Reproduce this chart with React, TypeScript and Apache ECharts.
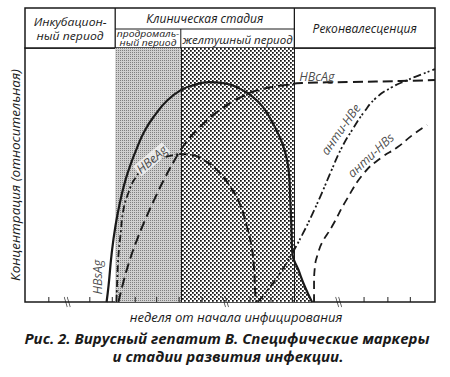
import React, { useEffect, useRef } from "react";
import * as echarts from "echarts";

// x: relative position along the week axis (0..100), y: relative concentration (0..100)
const stageBounds = [0, 22, 38, 65.7, 100];

const hbsAgX = [19.9, 20.4, 21.1, 22.1, 23.3, 24.5, 25.7, 27.3, 29.3, 31.7, 34.8, 38.1, 41.2, 44.8, 48.4, 52.0, 55.6, 58.0, 60.0, 61.9, 63.3, 64.3, 64.7, 65.0, 65.2, 66.7, 68.3, 70.0];
const hbsAgY = [0, 6.7, 18.5, 30.3, 40.2, 48.0, 53.9, 60.6, 67.7, 73.6, 79.5, 83.5, 85.4, 86.6, 86.2, 84.3, 80.7, 76.8, 71.7, 65.7, 59.8, 52.0, 40.2, 28.3, 19.3, 12.6, 5.9, 0];

const hbsAgTailX = [65.7, 66.7, 68.3, 70.0];
const hbsAgTailY = [16.9, 12.6, 5.9, 0];

const hbcAgX = [22.8, 24.0, 25.4, 27.1, 29.3, 31.7, 34.1, 36.5, 38.8, 42.4, 47.2, 53.2, 58.0, 63.5, 67.6, 79.6, 91.6, 100];
const hbcAgY = [0, 7.9, 15.7, 23.6, 32.3, 40.9, 48.8, 55.9, 61.8, 68.5, 75.2, 81.1, 83.9, 85.4, 86.2, 86.6, 87.0, 87.4];

const hbeAgRiseX = [22.3, 22.5, 22.8, 23.3, 24.0, 25.2, 26.9, 29.7, 32.9, 35.3, 37.6];
const hbeAgRiseY = [0, 8.7, 18.5, 26.4, 36.2, 42.9, 48.8, 53.9, 56.3, 57.5, 58.3];

const hbeAgFallX = [37.6, 40.8, 43.6, 46.8, 50.1, 52.5, 54.0, 55.2, 55.9, 56.1, 56.4];
const hbeAgFallY = [58.3, 57.9, 55.9, 52.0, 45.3, 38.2, 30.3, 22.4, 12.6, 4.7, 0];

const antiHbeX = [56.8, 59.2, 62.4, 65.2, 67.6, 70.0, 72.4, 74.8, 77.2, 80.1, 82.7, 85.6, 89.2, 93.3, 96.4, 100];
const antiHbeY = [0, 4.7, 11.8, 19.3, 26.4, 34.3, 42.9, 52.0, 60.6, 68.5, 74.8, 80.3, 84.3, 87.4, 89.4, 91.7];

const antiHbsX = [70.5, 70.5, 70.7, 71.5, 72.4, 74.8, 78.4, 82.7, 86.8, 90.9, 94.5, 98.1];
const antiHbsY = [0, 6.7, 13.8, 19.3, 23.2, 29.5, 40.2, 50.8, 56.7, 61.0, 65.7, 69.7];

const tickX = [5.8, 15.8, 21.3, 26.9, 32.1, 37.6, 43.2, 54.9, 60.0, 65.2, 70.5, 82.7, 88.5, 94.0];
const breakX = [10.3, 48.9, 76.5];

const curveLabels = [
  { text: "HBsAg", x: 17.7, y: 9.8, rotate: 90, bg: "transparent" },
  { text: "HBeAg", x: 30.9, y: 56.2, rotate: 40, bg: "#f4f4f4" },
  { text: "HBcAg", x: 71.2, y: 88.6, rotate: 0, bg: "transparent" },
  { text: "анти-HBe", x: 77.0, y: 68.0, rotate: 55, bg: "transparent" },
  { text: "анти-HBs", x: 84.3, y: 57.8, rotate: 43, bg: "transparent" },
];

const headerIncubation = ["Инкубацион-", "ный период"];
const headerClinical = "Клиническая стадия";
const headerProdromal = ["продромаль-", "ный период"];
const headerJaundice = "желтушный период";
const headerConv = "Реконвалесценция";
const yTitle = "Концентрация (относительная)";
const xTitle = "неделя от начала инфицирования";
const caption = ["Рис. 2. Вирусный гепатит В. Специфические маркеры", "и стадии развития инфекции."];

const FONT = "'Open Sans', 'Noto Sans', sans-serif";

function zip(xs: number[], ys: number[]) {
  return xs.map((x, i) => [x, ys[i]]);
}

function squaresPattern(size: number, dots: number[][], bg: string, fg: string) {
  const c = document.createElement("canvas");
  c.width = size;
  c.height = size;
  const g = c.getContext("2d")!;
  g.fillStyle = bg;
  g.fillRect(0, 0, size, size);
  g.fillStyle = fg;
  dots.forEach(([x, y, w]) => g.fillRect(x, y, w, w));
  return c.toDataURL();
}

export default function App() {
  const ref = useRef<HTMLDivElement>(null);
  useEffect(() => {
    document.body.style.margin = "0";
    const chart = echarts.init(ref.current!, null, { renderer: "svg" });
    const prodPattern = { image: squaresPattern(2, [[0, 0, 1]], "#d0d0d0", "#808080"), repeat: "repeat" };
    const jaunPattern = {
      image: squaresPattern(16, [[0, 0, 7], [8, 8, 7]], "#ffffff", "#111111"),
      repeat: "repeat",
      scaleX: 0.25,
      scaleY: 0.25,
    };
    const ink = "#1a1a1a";
    const lineSeries = (name: string, data: number[][], width: number, type: any) => ({
      name,
      type: "line",
      data,
      smooth: 0.5,
      symbol: "none",
      lineStyle: { color: ink, width, type, cap: "butt" },
      z: 5,
    });

    chart.setOption({
      animation: false,
      grid: { left: 18, right: 15, top: 48, bottom: 75, show: true, borderColor: ink, borderWidth: 1.5, backgroundColor: "#fff" },
      xAxis: {
        type: "value", min: 0, max: 100,
        axisLine: { show: false }, axisTick: { show: false }, axisLabel: { show: false }, splitLine: { show: false },
      },
      yAxis: {
        type: "value", min: 0, max: 100,
        axisLine: { show: false }, axisTick: { show: false }, axisLabel: { show: false }, splitLine: { show: false },
        name: yTitle, nameLocation: "middle", nameRotate: 90, nameGap: 3,
        nameTextStyle: { fontFamily: FONT, fontStyle: "italic", fontSize: 13.5, color: ink },
      },
      series: [
        {
          type: "line", data: [], silent: true,
          markArea: {
            silent: true,
            data: [
              [{ xAxis: stageBounds[1], itemStyle: { color: prodPattern } }, { xAxis: stageBounds[2] }],
              [{ xAxis: stageBounds[2], itemStyle: { color: jaunPattern } }, { xAxis: stageBounds[3] }],
            ],
            label: { show: false },
          },
        },
        {
          type: "line", data: zip(hbsAgTailX, hbsAgTailY), symbol: "none", smooth: false,
          lineStyle: { width: 0 }, areaStyle: { color: jaunPattern, opacity: 1 }, z: 2,
        },
        {
          type: "line", data: [], silent: true, z: 1,
          markLine: {
            silent: true, symbol: "none", label: { show: false },
            lineStyle: { color: ink, width: 1, type: "solid" },
            data: [{ xAxis: stageBounds[2] }, { xAxis: stageBounds[3] }],
          },
        },
        lineSeries("HBsAg", zip(hbsAgX, hbsAgY), 2.2, "solid"),
        lineSeries("HBcAg", zip(hbcAgX, hbcAgY), 2, [10, 5]),
        lineSeries("HBeAg-rise", zip(hbeAgRiseX, hbeAgRiseY), 1.8, [7, 3, 2, 3]),
        lineSeries("HBeAg-fall", zip(hbeAgFallX, hbeAgFallY), 2, [9, 4]),
        lineSeries("анти-HBe", zip(antiHbeX, antiHbeY), 1.8, [8, 3, 2, 2, 2, 3]),
        lineSeries("анти-HBs", zip(antiHbsX, antiHbsY), 1.8, [8, 5]),
        {
          type: "scatter", data: tickX.map((x) => [x, 0]), symbol: "rect", symbolSize: [1.2, 5],
          symbolOffset: [0, -2.5], itemStyle: { color: ink }, clip: false, silent: true, z: 6,
        },
        {
          type: "scatter", data: breakX.map((x) => [x, 0]), symbol: "path://M0,0 L3,10 M3,0 L6,10",
          symbolSize: [6, 10], itemStyle: { color: "none", borderColor: ink, borderWidth: 1 }, clip: false, silent: true, z: 6,
        },
        {
          type: "scatter", silent: true, clip: false, symbolSize: 0, z: 7,
          data: curveLabels.map((l) => ({
            value: [l.x, l.y],
            label: {
              show: true, formatter: l.text, rotate: l.rotate, position: "inside",
              fontFamily: FONT, fontStyle: "italic", fontSize: 12.5, color: ink,
              backgroundColor: l.bg, padding: [0, 1],
            },
          })),
        },
      ],
    });

    const px = (v: number) => chart.convertToPixel({ xAxisIndex: 0 }, v) as number;
    const x0 = px(stageBounds[0]);
    const x1 = px(stageBounds[1]);
    const x2 = px(stageBounds[2]);
    const x3 = px(stageBounds[3]);
    const x4 = px(stageBounds[4]);
    const top = 8;
    const mid = 29;
    const bot = 48;
    const txt = (text: string, x: number, y: number, size: number, extra: any = {}, tf: any = {}) => ({
      type: "text", x, y, ...tf,
      style: { text, fontFamily: FONT, fontStyle: "italic", fontSize: size, fill: ink, align: "center", verticalAlign: "middle", ...extra },
      silent: true,
    });
    const ln = (a: number, b: number, c: number, d: number, w = 1.3) => ({
      type: "line", shape: { x1: a, y1: b, x2: c, y2: d }, style: { stroke: ink, lineWidth: w }, silent: true,
    });

    chart.setOption({
      graphic: [
        { type: "rect", shape: { x: x0, y: top, width: x4 - x0, height: bot - top }, style: { fill: "#fff", stroke: ink, lineWidth: 1.5 }, silent: true },
        ln(x1, top, x1, bot),
        ln(x3, top, x3, bot),
        ln(x1, mid, x3, mid, 1),
        ln(x2, mid, x2, bot, 1),
        txt(headerIncubation[0], (x0 + x1) / 2, 21, 11.5, {}, { scaleX: 1.06 }),
        txt(headerIncubation[1], (x0 + x1) / 2, 35.5, 11.5, {}, { scaleX: 1.06 }),
        txt(headerClinical, (x1 + x3) / 2, 18, 12),
        txt(headerProdromal[0], (x1 + x2) / 2, 34, 9, {}, { scaleX: 1.15 }),
        txt(headerProdromal[1], (x1 + x2) / 2, 43, 9, {}, { scaleX: 1.15 }),
        txt(headerJaundice, (x2 + x3) / 2, 39, 11.5),
        txt(headerConv, (x3 + x4) / 2, 28.5, 12),
        txt(xTitle, 236, 317, 13),
        txt(caption[0], 227, 338, 15, { fontWeight: "bold" }),
        txt(caption[1], 228, 356, 15, { fontWeight: "bold" }),
      ],
    });

    return () => chart.dispose();
  }, []);
  return <div ref={ref} style={{ position: "absolute", left: 0, top: 0, width: 450, height: 377, background: "#fff" }} />;
}
